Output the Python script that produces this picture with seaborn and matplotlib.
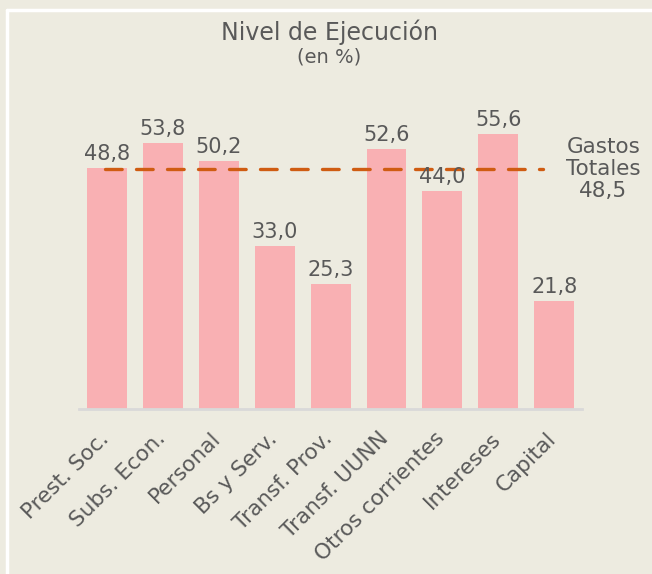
import pandas as pd
import matplotlib.pyplot as plt
import seaborn as sns
from matplotlib.lines import Line2D
from matplotlib.transforms import ScaledTranslation

# data
categorias = ['Prest. Soc.', 'Subs. Econ.', 'Personal', 'Bs y Serv.', 'Transf. Prov.',
              'Transf. UUNN', 'Otros corrientes', 'Intereses', 'Capital']
ejecucion = [48.8, 53.8, 50.2, 33.0, 25.3, 52.6, 44.0, 55.6, 21.8]
gastos_totales = 48.5

df = pd.DataFrame({'categoria': categorias, 'valor': ejecucion})

bg = '#EDEBE0'
gris = '#595959'

sns.set_theme(style='white')
plt.rcParams['font.family'] = ['DejaVu Sans']

fig = plt.figure(figsize=(6.52, 5.74), dpi=100, facecolor=bg)
ax = fig.add_axes([0.121, 0.2875, 0.772, 0.517])
ax.set_facecolor(bg)

sns.barplot(data=df, x='categoria', y='valor', color='#F9B0B3', width=0.714,
            saturation=1, linewidth=0, ax=ax)

# dashed line for total
ax.hlines(gastos_totales, -0.04, 7.8, colors='#CF5C12', linestyles=(0, (5, 4.3)),
          linewidth=2.4, capstyle='round', zorder=3)

# value labels
for i, v in enumerate(ejecucion):
    ax.text(i, v + 0.8, f'{v:.1f}'.replace('.', ','), ha='center', va='bottom',
            fontsize=15, color=gris)

ax.text(8.875, gastos_totales, 'Gastos\nTotales\n48,5', ha='center', va='center',
        fontsize=15.5, color=gris, linespacing=1.13, clip_on=False)

ax.set_ylim(0, 60)
ax.set_xlim(-0.5, 8.5)
ax.set_xlabel('')
ax.set_ylabel('')
ax.set_yticks([])
for s in ['top', 'right', 'left']:
    ax.spines[s].set_visible(False)
ax.spines['bottom'].set_color('#D9D9D9')
ax.spines['bottom'].set_linewidth(2)
ax.tick_params(axis='x', length=0, pad=14)
offset = ScaledTranslation(-8 / 100, 0, fig.dpi_scale_trans)
for lbl in ax.get_xticklabels():
    lbl.set_rotation(45)
    lbl.set_ha('right')
    lbl.set_rotation_mode('anchor')
    lbl.set_fontsize(15.5)
    lbl.set_color(gris)
    lbl.set_transform(lbl.get_transform() + offset)

# titles
fig.text(0.505, 0.944, 'Nivel de Ejecución', ha='center', va='center',
         fontsize=17, color=gris)
fig.text(0.505, 0.9, '(en %)', ha='center', va='center', fontsize=14, color=gris)

# white frame lines
fig.add_artist(Line2D([7 / 652, 1], [1 - 10 / 574, 1 - 10 / 574], color='white',
                      linewidth=2.5, transform=fig.transFigure))
fig.add_artist(Line2D([7 / 652, 7 / 652], [0, 1 - 10 / 574], color='white',
                      linewidth=2.5, transform=fig.transFigure))

fig.savefig('out.png', dpi=100, facecolor=bg)
